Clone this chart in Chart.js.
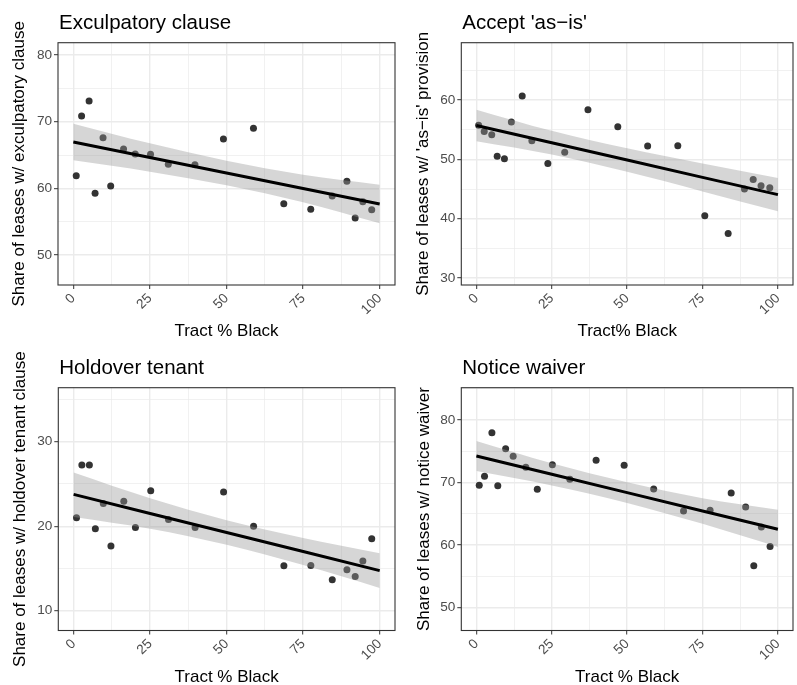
<!DOCTYPE html>
<html>
<head>
<meta charset="utf-8">
<script src="https://cdn.jsdelivr.net/npm/chart.js@4.4.1/dist/chart.umd.min.js"></script>
<style>
  html, body { margin: 0; padding: 0; background: #fff; }
  #wrap { position: relative; width: 797px; height: 685px; overflow: hidden; }
  canvas { position: absolute; }
</style>
</head>
<body>
<div id="wrap">
  <canvas id="exculpatory" width="399" height="342" style="left:0;top:0"></canvas>
  <canvas id="asis" width="398" height="342" style="left:399px;top:0"></canvas>
  <canvas id="holdover" width="399" height="343" style="left:0;top:342px"></canvas>
  <canvas id="notice" width="398" height="343" style="left:399px;top:342px"></canvas>
</div>
<script>
// tract % Black bins (same bins for exculpatory, holdover and notice panels)
const tractBins = [0.95, 2.7, 5.15, 7.1, 9.7, 12.2, 16.4, 20.2, 25.2, 31.0, 39.7, 49.0, 58.8, 68.7, 77.5, 84.5, 89.3, 92.0, 94.5, 97.4];
const tractBinsAsIs = [0.75, 2.6, 5.1, 6.9, 9.3, 11.6, 15.2, 18.4, 23.7, 29.3, 37.0, 46.9, 56.8, 66.8, 75.75, 83.5, 88.9, 91.8, 94.4, 97.3];

// share of leases with each clause, per bin
const shareExculpatory = [61.9, 70.85, 73.1, 59.25, 67.6, 60.35, 65.9, 65.15, 65.1, 63.6, 63.55, 67.4, 69.0, 57.7, 56.85, 58.85, 61.05, 55.55, 58.0, 56.8];
const shareAsIs = [55.73, 54.7, 54.16, 50.5, 50.1, 56.3, 60.67, 53.15, 49.3, 51.2, 58.37, 55.5, 52.25, 52.3, 40.5, 37.5, 45.0, 46.6, 45.56, 45.2];
const shareHoldover = [21.0, 27.24, 27.24, 19.7, 22.7, 17.65, 22.94, 19.86, 24.2, 20.8, 19.86, 24.04, 20.0, 15.33, 15.36, 13.67, 14.85, 14.06, 15.88, 18.52];
const shareNotice = [69.56, 71.0, 77.98, 69.5, 75.42, 74.19, 72.43, 68.92, 72.86, 70.52, 73.55, 72.75, 68.97, 65.46, 65.56, 68.33, 66.1, 56.72, 62.9, 59.8];

// linear fit and 95% band, sampled along the x axis
const fitX = [0, 25, 50, 75, 100];
const fitExculpatory = [66.95, 64.63, 62.30, 59.98, 57.65];
const hiExculpatory = [69.70, 66.75, 64.15, 62.05, 60.55];
const loExculpatory = [64.20, 62.50, 60.45, 57.90, 54.75];
const fitAsIs = [55.70, 52.79, 49.88, 46.96, 44.05];
const hiAsIs = [58.37, 54.80, 51.85, 49.30, 46.85];
const loAsIs = [53.03, 50.80, 47.90, 44.60, 41.25];
const fitHoldover = [23.77, 21.51, 19.26, 17.00, 14.74];
const hiHoldover = [26.35, 23.30, 20.70, 18.60, 16.80];
const loHoldover = [21.10, 19.70, 17.80, 15.40, 12.70];
const fitNotice = [74.25, 71.32, 68.39, 65.46, 62.53];
const hiNotice = [76.65, 73.10, 70.05, 67.50, 65.65];
const loNotice = [71.85, 69.55, 66.75, 63.40, 59.70];

// axis ticks
const xTicks = [0, 25, 50, 75, 100];
const yTicksExculpatory = [50, 60, 70, 80];
const yTicksAsIs = [30, 40, 50, 60];
const yTicksHoldover = [10, 20, 30];
const yTicksNotice = [50, 60, 70, 80];

const FONT = "'Liberation Sans', Arial, Helvetica, sans-serif";
const GRID = '#ebebeb';
const INK = '#333333';

// major ticks plus the half-step minor ones that fall inside the range
function withMinor(major, min, max) {
    const half = (major[1] - major[0]) / 2;
    const out = [];
    for (let v = major[0] - half; v <= major[major.length - 1] + half + 1e-9; v += half) {
        if (v >= min && v <= max) out.push(+v.toFixed(4));
    }
    return out;
}

const pairs = (xs, ys) => xs.map((x, i) => ({ x, y: ys[i] }));

const panelFrame = {
    id: 'panelFrame',
    afterDraw(chart, args, opts) {
        const { ctx, chartArea: a } = chart;
        ctx.save();
        ctx.strokeStyle = INK;
        ctx.lineWidth = 1.1;
        ctx.strokeRect(a.left, a.top, a.right - a.left, a.bottom - a.top);
        ctx.fillStyle = '#000';
        ctx.font = `20.5px ${FONT}`;
        ctx.textBaseline = 'alphabetic';
        ctx.textAlign = 'left';
        ctx.fillText(opts.text, a.left + 1, a.top - 13.5);
        ctx.restore();
    },
};

function makePanel(id, p) {
    const yAll = withMinor(p.yTicks, p.yMin, p.yMax);
    const xAll = withMinor(xTicks, -5, 105);
    const tickFont = { family: FONT, size: 13.6 };

    new Chart(document.getElementById(id), {
        type: 'scatter',
        data: {
            datasets: [
                {
                    data: pairs(p.xs, p.ys),
                    backgroundColor: INK,
                    pointRadius: 3.5,
                    pointBorderWidth: 0,
                    order: 3,
                },
                {
                    type: 'line',
                    data: pairs(fitX, p.hi),
                    borderWidth: 0,
                    pointRadius: 0,
                    backgroundColor: 'rgba(153, 153, 153, 0.4)',
                    fill: '+1',
                    cubicInterpolationMode: 'monotone',
                    order: 2,
                },
                {
                    type: 'line',
                    data: pairs(fitX, p.lo),
                    borderWidth: 0,
                    pointRadius: 0,
                    fill: false,
                    cubicInterpolationMode: 'monotone',
                    order: 2,
                },
                {
                    type: 'line',
                    data: pairs(fitX, p.fit),
                    borderColor: '#000',
                    borderWidth: 3,
                    pointRadius: 0,
                    fill: false,
                    order: 1,
                },
            ],
        },
        options: {
            responsive: false,
            animation: false,
            devicePixelRatio: 1,
            events: [],
            layout: { padding: { top: p.top, right: p.right, bottom: 0, left: 0 } },
            plugins: {
                legend: { display: false },
                tooltip: { enabled: false },
                panelFrame: { text: p.title },
            },
            scales: {
                x: {
                    type: 'linear',
                    min: -5,
                    max: 105,
                    afterBuildTicks: s => { s.ticks = xAll.map(value => ({ value })); },
                    afterFit: s => { s.height = p.xAxisHeight; },
                    ticks: {
                        autoSkip: false,
                        minRotation: 45,
                        maxRotation: 45,
                        padding: 1.5,
                        color: '#4d4d4d',
                        font: tickFont,
                        callback: v => (xTicks.includes(v) ? String(v) : ''),
                    },
                    grid: {
                        color: GRID,
                        lineWidth: c => (xTicks.includes(c.tick && c.tick.value) ? 1.4 : 0.7),
                        tickColor: c => (xTicks.includes(c.tick && c.tick.value) ? INK : 'rgba(0,0,0,0)'),
                        tickLength: 4,
                        tickWidth: 1,
                    },
                    border: { display: false },
                    title: {
                        display: true,
                        text: p.xTitle,
                        color: '#000',
                        font: { family: FONT, size: 17, lineHeight: 1 },
                        padding: { top: 0, bottom: p.xTitlePad },
                    },
                },
                y: {
                    type: 'linear',
                    min: p.yMin,
                    max: p.yMax,
                    afterBuildTicks: s => { s.ticks = yAll.map(value => ({ value })); },
                    afterFit: s => { s.width = p.yAxisWidth; },
                    ticks: {
                        autoSkip: false,
                        padding: 2,
                        color: '#4d4d4d',
                        font: tickFont,
                        callback: v => (p.yTicks.includes(v) ? String(v) : ''),
                    },
                    grid: {
                        color: GRID,
                        lineWidth: c => (p.yTicks.includes(c.tick && c.tick.value) ? 1.4 : 0.7),
                        tickColor: c => (p.yTicks.includes(c.tick && c.tick.value) ? INK : 'rgba(0,0,0,0)'),
                        tickLength: 4,
                        tickWidth: 1,
                    },
                    border: { display: false },
                    title: {
                        display: true,
                        text: p.yTitle,
                        color: '#000',
                        font: { family: FONT, size: 17, lineHeight: 1 },
                        padding: { top: p.yTitlePad, bottom: 0 },
                    },
                },
            },
        },
        plugins: [panelFrame],
    });
}

makePanel('exculpatory', {
    title: 'Exculpatory clause',
    xTitle: 'Tract % Black',
    yTitle: 'Share of leases w/ exculpatory clause',
    xs: tractBins, ys: shareExculpatory,
    fit: fitExculpatory, hi: hiExculpatory, lo: loExculpatory,
    yTicks: yTicksExculpatory, yMin: 45.5, yMax: 81.85,
    top: 42.7, right: 0.7, xAxisHeight: 57, yAxisWidth: 58, xTitlePad: 1.8, yTitlePad: 11,
});

makePanel('asis', {
    title: "Accept 'as\u2212is'",
    xTitle: 'Tract% Black',
    yTitle: "Share of leases w/ 'as\u2212is' provision",
    xs: tractBinsAsIs, ys: shareAsIs,
    fit: fitAsIs, hi: hiAsIs, lo: loAsIs,
    yTicks: yTicksAsIs, yMin: 28.82, yMax: 69.66,
    top: 42.7, right: 0.5, xAxisHeight: 57, yAxisWidth: 62.3, xTitlePad: 1.8, yTitlePad: 16,
});

makePanel('holdover', {
    title: 'Holdover tenant',
    xTitle: 'Tract % Black',
    yTitle: 'Share of leases w/ holdover tenant clause',
    xs: tractBins, ys: shareHoldover,
    fit: fitHoldover, hi: hiHoldover, lo: loHoldover,
    yTicks: yTicksHoldover, yMin: 7.66, yMax: 36.39,
    top: 45.7, right: 0.7, xAxisHeight: 54.5, yAxisWidth: 58.3, xTitlePad: -1.2, yTitlePad: 11.5,
});

makePanel('notice', {
    title: 'Notice waiver',
    xTitle: 'Tract % Black',
    yTitle: 'Share of leases w/ notice waiver',
    xs: tractBins, ys: shareNotice,
    fit: fitNotice, hi: hiNotice, lo: loNotice,
    yTicks: yTicksNotice, yMin: 46.36, yMax: 85.16,
    top: 45.7, right: 0.5, xAxisHeight: 54.5, yAxisWidth: 62.3, xTitlePad: -1.2, yTitlePad: 16.5,
});
</script>
</body>
</html>
